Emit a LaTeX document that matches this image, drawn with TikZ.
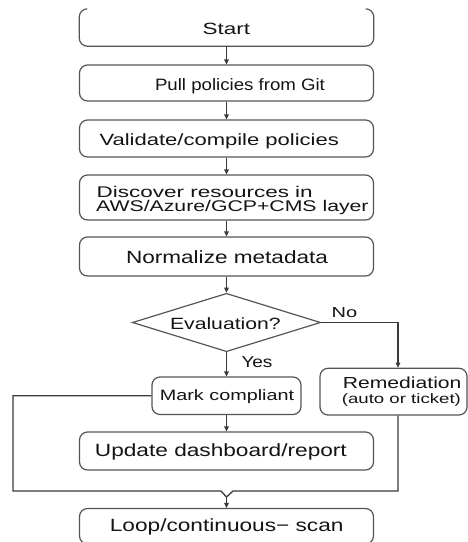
\documentclass[tikz,border=0pt]{standalone}
\usepackage{fontspec}
\usepackage{graphicx}
\setmainfont{Liberation Sans}
\usetikzlibrary{shapes.geometric,arrows.meta}
\definecolor{boxgray}{HTML}{555555}
\definecolor{linegray}{HTML}{3A3A3A}
\definecolor{txtgray}{HTML}{141414}
\newcommand\tx[3]{{\fontsize{#1}{#1}\selectfont\scalebox{#2}[1]{#3}}}
\begin{document}
\begin{tikzpicture}[x=1pt,y=-1pt,
  box/.style={draw=boxgray, line width=1.2pt, rounded corners=8pt, inner sep=0pt},
  openbox/.style={draw=none, inner sep=0pt},
  boxline/.style={draw=boxgray, line width=1.2pt},
  dec/.style={shape=diamond, draw=boxgray, line width=1.2pt, inner sep=0pt},
  lab/.style={inner sep=0pt, anchor=base, text=txtgray},
  conn/.style={draw=linegray, line width=1.3pt},
  arr/.style={conn, -{Triangle[length=5pt,width=4.5pt]}}]
\useasboundingbox (0,0) rectangle (468,542);
\clip (0,0) rectangle (468,542);
\fill[white] (0,0) rectangle (468,542);
% boxes
\node[openbox, minimum width=294pt, minimum height=37pt] (start) at (226.5,27.5) {};
\draw[boxline, rounded corners=8pt] ([xshift=8pt]start.north west) -- (start.north west) -- (start.south west) -- (start.south east) -- (start.north east) -- ([xshift=-8pt]start.north east);
\node[box, minimum width=294pt, minimum height=36pt] (pull) at (226.5,83) {};
\node[box, minimum width=294pt, minimum height=37pt] (validate) at (226.5,138.5) {};
\node[box, minimum width=294pt, minimum height=45pt] (discover) at (226.5,197.5) {};
\node[box, minimum width=294pt, minimum height=39pt] (normalize) at (226.5,256.5) {};
\node[dec, minimum width=188.3pt, minimum height=58.4pt] (eval) at (226.5,322.5) {};
\node[box, minimum width=149pt, minimum height=37.5pt] (mark) at (226.5,395.75) {};
\node[box, minimum width=147pt, minimum height=46.7pt] (remed) at (393.5,391.65) {};
\node[box, minimum width=294pt, minimum height=38pt] (update) at (226.5,451) {};
\node[box, minimum width=294pt, minimum height=35.5pt] (loop) at (226.5,526.25) {};
% labels
\node[lab] (tstart) at (226.4,34.3) {\tx{16.3}{1.38}{Start}};
\node[lab] (tpull) at (240,90) {\tx{16.5}{1.13}{Pull policies from Git}};
\node[lab] (tval) at (219.2,145) {\tx{16.3}{1.35}{Validate/compile policies}};
\node[lab, anchor=base west] (tdis1) at (96.5,197.3) {\tx{15.5}{1.45}{Discover resources in}};
\node[lab, anchor=base west] (tdis2) at (96,211.7) {\tx{15.5}{1.37}{AWS/Azure/GCP+CMS layer}};
\node[lab] (tnorm) at (227,263.3) {\tx{17.7}{1.275}{Normalize metadata}};
\node[lab] (teval) at (225.4,329) {\tx{16.3}{1.30}{Evaluation?}};
\node[lab] (tno) at (344.5,317.3) {\tx{14.5}{1.38}{No}};
\node[lab] (tyes) at (257,367.3) {\tx{15.8}{1.20}{Yes}};
\node[lab] (tmark) at (227,400) {\tx{15}{1.32}{Mark compliant}};
\node[lab] (trem1) at (402.2,388.5) {\tx{16}{1.32}{Remediation}};
\node[lab] (trem2) at (401.4,403.5) {\tx{13.6}{1.37}{(auto or ticket)}};
\node[lab] (tupd) at (220.9,456.7) {\tx{17.7}{1.28}{Update dashboard/report}};
\node[lab] (tloop) at (226.7,531.7) {\tx{17.7}{1.28}{Loop/continuous− scan}};
% connectors
\draw[arr] (start) -- (pull);
\draw[arr] (pull) -- (validate);
\draw[arr] (validate) -- (discover);
\draw[arr] (discover) -- (normalize);
\draw[arr] (normalize) -- (eval);
\draw[arr] (eval) -- (mark);
\draw[arr] (eval.east) -| ([xshift=4.5pt]remed.north);
\draw[arr] (mark) -- (update);
\coordinate (lft) at (13,491);
\coordinate (jl) at (221,491);
\coordinate (jr) at (233,491);
\coordinate (j) at (226.5,497);
\draw[conn] (mark.west) -| (lft) -- (jl) -- (j);
\draw[conn] ([xshift=4.5pt]remed.south) |- (jr) -- (j);
\draw[arr] (j) -- (loop);
\end{tikzpicture}
\end{document}
